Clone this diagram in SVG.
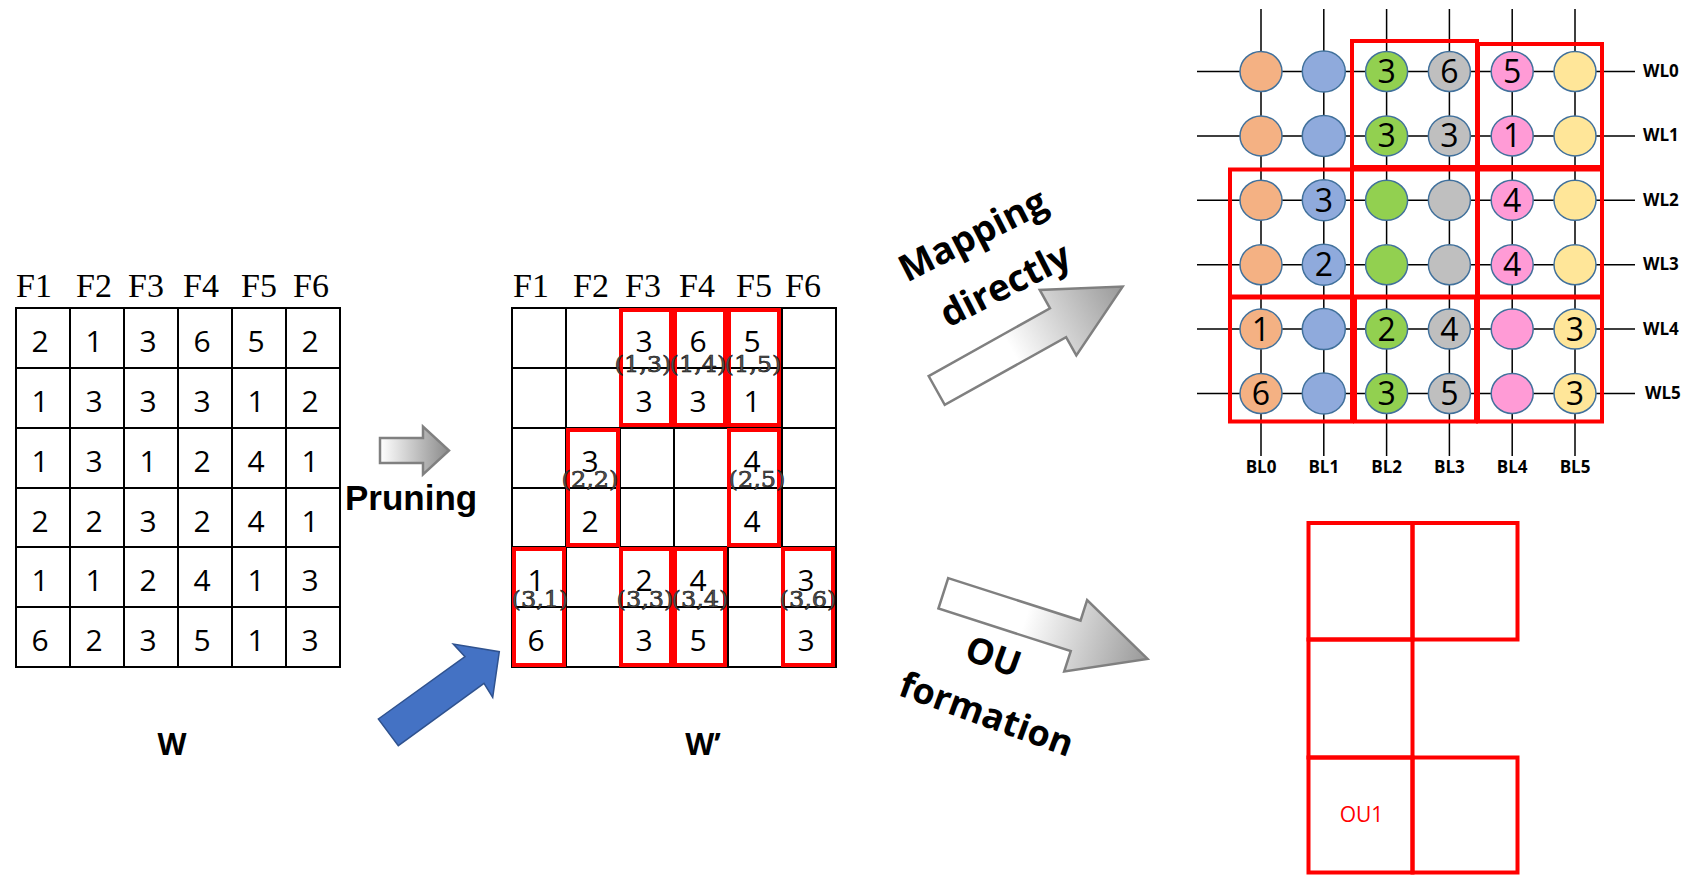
<svg xmlns="http://www.w3.org/2000/svg" width="1691" height="875" viewBox="0 0 1691 875">
<style>
.bg{fill:#fff}
.grid{stroke:#000;stroke-width:2;fill:none}
.hdr{font-family:"Liberation Serif",serif;font-size:34px;fill:#000}
.num{font-family:"Open Sans","Liberation Sans",sans-serif;font-size:30px;fill:#000;text-anchor:middle}
.idx{font-family:"DejaVu Serif","Liberation Serif",serif;font-size:23px;fill:#555;stroke:#111;stroke-width:0.6;text-anchor:middle}
.red{stroke:#ff0000;stroke-width:4;fill:none}
.lbl{font-family:"Open Sans","Liberation Sans",sans-serif;font-weight:bold;fill:#000}
.wire{stroke:#000;stroke-width:1.5;fill:none}
.cell{stroke:#41719c;stroke-width:1.5}
.cnum{font-family:"Open Sans","Liberation Sans",sans-serif;font-size:32px;fill:#000;text-anchor:middle}
.wl{font-family:"Open Sans","Liberation Sans",sans-serif;font-weight:bold;font-size:17px;fill:#000}
.bl{font-family:"Open Sans","Liberation Sans",sans-serif;font-weight:bold;font-size:17px;fill:#000;text-anchor:middle}
.garrow{stroke:#808080;stroke-width:2.5;stroke-linejoin:miter}
</style>
<defs>
<linearGradient id="gH" x1="0" y1="0" x2="1" y2="0">
<stop offset="0" stop-color="#ffffff"/>
<stop offset="1" stop-color="#8a8a8a"/>
</linearGradient>
<linearGradient id="gA" x1="0" y1="0" x2="1" y2="0">
<stop offset="0" stop-color="#ffffff"/>
<stop offset="0.4" stop-color="#ffffff"/>
<stop offset="1" stop-color="#999999"/>
</linearGradient>
</defs>
<rect class="bg" x="0" y="0" width="1691" height="875"/>

<g id="matrix-W">
<g class="hdr">
<text x="16" y="297">F1</text><text x="76" y="297">F2</text><text x="128" y="297">F3</text><text x="183" y="297">F4</text><text x="241" y="297">F5</text><text x="293" y="297">F6</text>
</g>
<rect class="grid" x="16" y="308" width="324" height="359"/>
<path class="grid" d="M70 308V667M124 308V667M178 308V667M232 308V667M286 308V667M16 368H340M16 428H340M16 488H340M16 547H340M16 607H340"/>
<g class="num">
<text x="40" y="351.5">2</text><text x="94" y="351.5">1</text><text x="148" y="351.5">3</text><text x="202" y="351.5">6</text><text x="256" y="351.5">5</text><text x="310" y="351.5">2</text>
<text x="40" y="411.5">1</text><text x="94" y="411.5">3</text><text x="148" y="411.5">3</text><text x="202" y="411.5">3</text><text x="256" y="411.5">1</text><text x="310" y="411.5">2</text>
<text x="40" y="471.5">1</text><text x="94" y="471.5">3</text><text x="148" y="471.5">1</text><text x="202" y="471.5">2</text><text x="256" y="471.5">4</text><text x="310" y="471.5">1</text>
<text x="40" y="531.5">2</text><text x="94" y="531.5">2</text><text x="148" y="531.5">3</text><text x="202" y="531.5">2</text><text x="256" y="531.5">4</text><text x="310" y="531.5">1</text>
<text x="40" y="590.5">1</text><text x="94" y="590.5">1</text><text x="148" y="590.5">2</text><text x="202" y="590.5">4</text><text x="256" y="590.5">1</text><text x="310" y="590.5">3</text>
<text x="40" y="650.5">6</text><text x="94" y="650.5">2</text><text x="148" y="650.5">3</text><text x="202" y="650.5">5</text><text x="256" y="650.5">1</text><text x="310" y="650.5">3</text>
</g>
<text class="lbl" x="172" y="755" font-size="30" text-anchor="middle">W</text>
</g>

<g id="matrix-Wp">
<g class="hdr">
<text x="513" y="297">F1</text><text x="573" y="297">F2</text><text x="625" y="297">F3</text><text x="679" y="297">F4</text><text x="736" y="297">F5</text><text x="785" y="297">F6</text>
</g>
<rect class="grid" x="512" y="308" width="324" height="359"/>
<path class="grid" d="M566 308V667M620 308V667M674 308V667M728 308V667M782 308V667M512 368H836M512 428H836M512 488H836M512 547H836M512 607H836"/>
<g class="red">
<rect x="621" y="310" width="50" height="115"/>
<rect x="675" y="310" width="50" height="115"/>
<rect x="729" y="310" width="50" height="115"/>
<rect x="568" y="430" width="50" height="115"/>
<rect x="729" y="430" width="50" height="115"/>
<rect x="514" y="549" width="50" height="116"/>
<rect x="621" y="549" width="50" height="116"/>
<rect x="675" y="549" width="50" height="116"/>
<rect x="783" y="549" width="50" height="116"/>
</g>
<g class="num">
<text x="644" y="351.5">3</text><text x="698" y="351.5">6</text><text x="752" y="351.5">5</text>
<text x="644" y="411.5">3</text><text x="698" y="411.5">3</text><text x="752" y="411.5">1</text>
<text x="590" y="471.5">3</text><text x="752" y="471.5">4</text>
<text x="590" y="531.5">2</text><text x="752" y="531.5">4</text>
<text x="536" y="590.5">1</text><text x="644" y="590.5">2</text><text x="698" y="590.5">4</text><text x="806" y="590.5">3</text>
<text x="536" y="650.5">6</text><text x="644" y="650.5">3</text><text x="698" y="650.5">5</text><text x="806" y="650.5">3</text>
</g>
<g class="idx">
<text x="643" y="372" textLength="57" lengthAdjust="spacingAndGlyphs">(1,3)</text>
<text x="698" y="372" textLength="57" lengthAdjust="spacingAndGlyphs">(1,4)</text>
<text x="753" y="372" textLength="57" lengthAdjust="spacingAndGlyphs">(1,5)</text>
<text x="590" y="487" textLength="57" lengthAdjust="spacingAndGlyphs">(2,2)</text>
<text x="757" y="487" textLength="57" lengthAdjust="spacingAndGlyphs">(2,5)</text>
<text x="540" y="607" textLength="57" lengthAdjust="spacingAndGlyphs">(3,1)</text>
<text x="645" y="607" textLength="57" lengthAdjust="spacingAndGlyphs">(3,3)</text>
<text x="700" y="607" textLength="57" lengthAdjust="spacingAndGlyphs">(3,4)</text>
<text x="808" y="607" textLength="57" lengthAdjust="spacingAndGlyphs">(3,6)</text>
</g>
<text class="lbl" x="703" y="755" font-size="30" text-anchor="middle">W’</text>
</g>

<g id="crossbar">
<path class="wire" d="M1197 71.5H1635M1197 135.9H1635M1197 200.3H1635M1197 264.7H1635M1197 329.1H1635M1197 393.5H1635M1261 9V456M1323.8 9V456M1386.6 9V456M1449.4 9V456M1512.2 9V456M1575 9V456"/>
<g class="cell">
<g fill="#f4b183"><ellipse cx="1261" cy="71.5" rx="21" ry="20"/><ellipse cx="1261" cy="135.9" rx="21" ry="20"/><ellipse cx="1261" cy="200.3" rx="21" ry="20"/><ellipse cx="1261" cy="264.7" rx="21" ry="20"/><ellipse cx="1261" cy="329.1" rx="21" ry="20"/><ellipse cx="1261" cy="393.5" rx="21" ry="20"/></g>
<g fill="#8faadc"><ellipse cx="1323.8" cy="71.5" rx="21.5" ry="20.5"/><ellipse cx="1323.8" cy="135.9" rx="21.5" ry="20.5"/><ellipse cx="1323.8" cy="200.3" rx="21.5" ry="20.5"/><ellipse cx="1323.8" cy="264.7" rx="21.5" ry="20.5"/><ellipse cx="1323.8" cy="329.1" rx="21.5" ry="20.5"/><ellipse cx="1323.8" cy="393.5" rx="21.5" ry="20.5"/></g>
<g fill="#92d050"><ellipse cx="1386.6" cy="71.5" rx="21" ry="20"/><ellipse cx="1386.6" cy="135.9" rx="21" ry="20"/><ellipse cx="1386.6" cy="200.3" rx="21" ry="20"/><ellipse cx="1386.6" cy="264.7" rx="21" ry="20"/><ellipse cx="1386.6" cy="329.1" rx="21" ry="20"/><ellipse cx="1386.6" cy="393.5" rx="21" ry="20"/></g>
<g fill="#bfbfbf"><ellipse cx="1449.4" cy="71.5" rx="21" ry="20"/><ellipse cx="1449.4" cy="135.9" rx="21" ry="20"/><ellipse cx="1449.4" cy="200.3" rx="21" ry="20"/><ellipse cx="1449.4" cy="264.7" rx="21" ry="20"/><ellipse cx="1449.4" cy="329.1" rx="21" ry="20"/><ellipse cx="1449.4" cy="393.5" rx="21" ry="20"/></g>
<g fill="#ff9bd6"><ellipse cx="1512.2" cy="71.5" rx="21" ry="20"/><ellipse cx="1512.2" cy="135.9" rx="21" ry="20"/><ellipse cx="1512.2" cy="200.3" rx="21" ry="20"/><ellipse cx="1512.2" cy="264.7" rx="21" ry="20"/><ellipse cx="1512.2" cy="329.1" rx="21" ry="20"/><ellipse cx="1512.2" cy="393.5" rx="21" ry="20"/></g>
<g fill="#ffe699"><ellipse cx="1575" cy="71.5" rx="21" ry="20"/><ellipse cx="1575" cy="135.9" rx="21" ry="20"/><ellipse cx="1575" cy="200.3" rx="21" ry="20"/><ellipse cx="1575" cy="264.7" rx="21" ry="20"/><ellipse cx="1575" cy="329.1" rx="21" ry="20"/><ellipse cx="1575" cy="393.5" rx="21" ry="20"/></g>
</g>
<g class="cnum">
<text x="1386.6" y="83">3</text><text x="1449.4" y="83">6</text><text x="1512.2" y="83">5</text>
<text x="1386.6" y="147.4">3</text><text x="1449.4" y="147.4">3</text><text x="1512.2" y="147.4">1</text>
<text x="1323.8" y="211.8">3</text><text x="1512.2" y="211.8">4</text>
<text x="1323.8" y="276.2">2</text><text x="1512.2" y="276.2">4</text>
<text x="1261" y="340.6">1</text><text x="1386.6" y="340.6">2</text><text x="1449.4" y="340.6">4</text><text x="1575" y="340.6">3</text>
<text x="1261" y="405">6</text><text x="1386.6" y="405">3</text><text x="1449.4" y="405">5</text><text x="1575" y="405">3</text>
</g>
<g class="red">
<rect x="1352" y="41" width="125" height="126"/>
<rect x="1478" y="44" width="124" height="123"/>
<rect x="1230" y="169.5" width="122" height="127"/>
<rect x="1352" y="169.5" width="125" height="127"/>
<rect x="1478" y="169.5" width="124" height="127"/>
<rect x="1230" y="297.5" width="122" height="124"/>
<rect x="1355" y="297.5" width="121" height="124"/>
<rect x="1478" y="297.5" width="124" height="124"/>
</g>
<g class="wl">
<text x="1643" y="77">WL0</text><text x="1643" y="141.4">WL1</text><text x="1643" y="205.8">WL2</text><text x="1643" y="270.2">WL3</text><text x="1643" y="334.6">WL4</text><text x="1645" y="399">WL5</text>
</g>
<g class="bl">
<text x="1261" y="473">BL0</text><text x="1323.8" y="473">BL1</text><text x="1386.6" y="473">BL2</text><text x="1449.4" y="473">BL3</text><text x="1512.2" y="473">BL4</text><text x="1575" y="473">BL5</text>
</g>
</g>

<g id="ou-grid">
<g class="red">
<rect x="1308.5" y="523" width="104" height="116.5"/>
<rect x="1412.5" y="523" width="105" height="116.5"/>
<rect x="1308.5" y="639.5" width="104" height="118"/>
<rect x="1308.5" y="757.5" width="104" height="115"/>
<rect x="1412.5" y="757.5" width="105" height="115"/>
</g>
<text x="1361.5" y="821.5" font-family="Open Sans, Liberation Sans, sans-serif" font-size="21" fill="#ff0000" text-anchor="middle">OU1</text>
</g>

<g id="connectors">
<path id="arrow-pruning" class="garrow" fill="url(#gH)" stroke-width="2" transform="translate(380,450.5)" d="M0,-12.5L43,-12.5L43,-24L69,0L43,24L43,12.5L0,12.5Z"/>
<text id="label-pruning" x="345" y="510" font-size="35" font-weight="bold" fill="#000" style="font-family:'Liberation Sans',Arial,sans-serif">Pruning</text>
<polygon id="arrow-blue" points="378.3,719 465,656.7 453.3,644 499.3,651.7 492.7,697.3 484,683.3 398.3,745.7" fill="#4472c4" stroke="#2f528f" stroke-width="1.5"/>
<path id="arrow-mapping" class="garrow" fill="url(#gA)" transform="translate(936.7,390.5) rotate(-29.2)" d="M0,-16.5L139,-16.5L139,-37.5L213,0L139,37.5L139,16.5L0,16.5Z"/>
<g id="label-mapping" class="lbl" font-size="37" text-anchor="middle" transform="translate(990.6,263) rotate(-27)">
<text x="-3.2" y="-20.3">Mapping</text>
<text x="3.2" y="38.8">directly</text>
</g>
<path id="arrow-ou" class="garrow" fill="url(#gA)" transform="translate(943.3,593.3) rotate(17.8)" d="M0,-16L139,-16L139,-37.5L214.5,0L139,37.5L139,16L0,16Z"/>
<g id="label-ou" class="lbl" font-size="36" text-anchor="middle" transform="translate(990.2,684.5) rotate(20)">
<text x="-6.7" y="-14.9">OU</text>
<text x="6.7" y="41.6">formation</text>
</g>
</g>
</svg>
